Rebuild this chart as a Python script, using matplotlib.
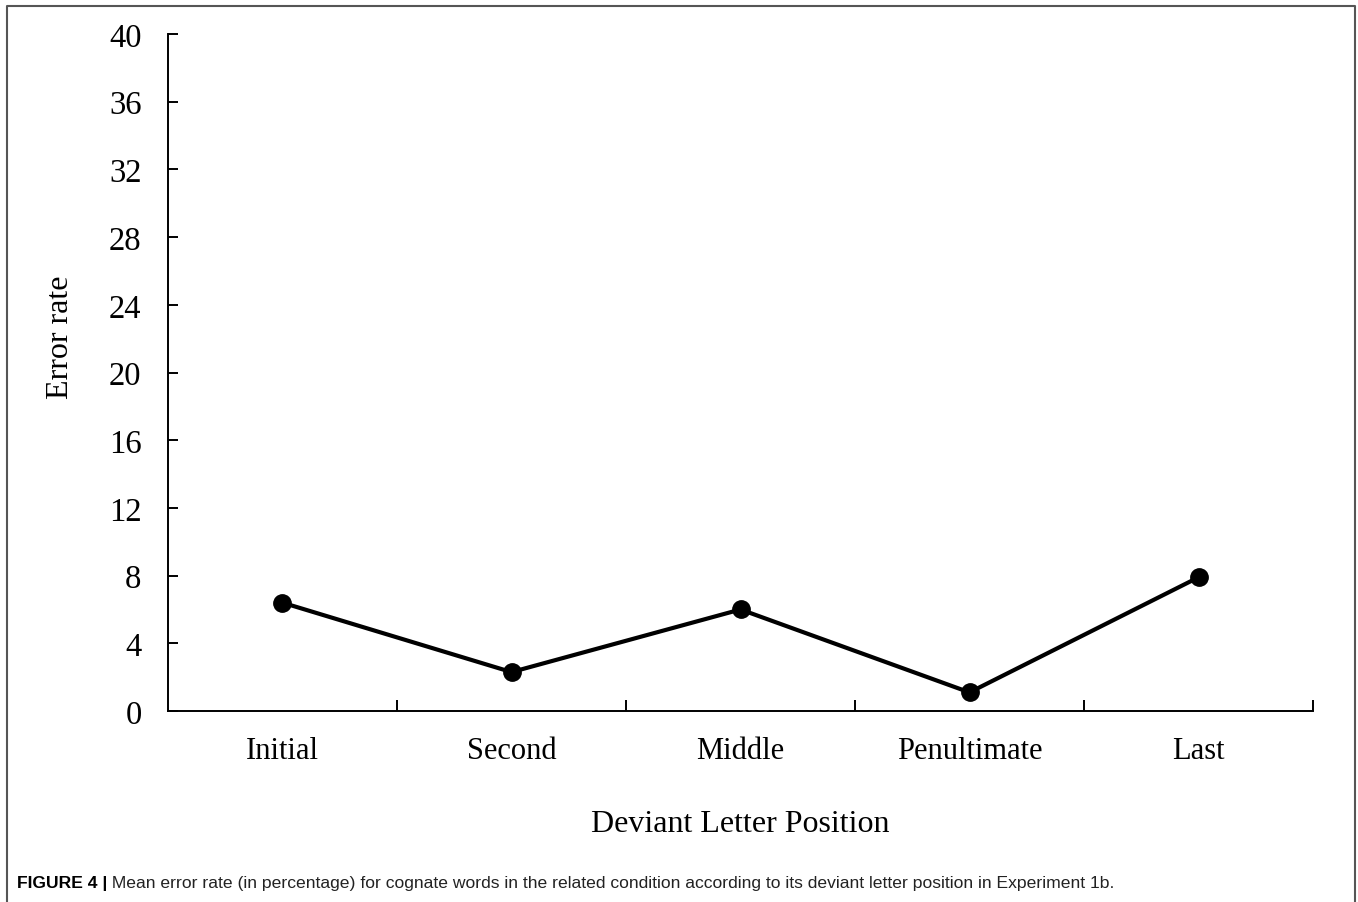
import numpy as np
import matplotlib
matplotlib.use('Agg')
import matplotlib.pyplot as plt
from matplotlib.lines import Line2D

# data
positions = ['Initial', 'Second', 'Middle', 'Penultimate', 'Last']
error_rate = [6.4, 2.3, 6.0, 1.1, 7.9]
y_ticks = [0, 4, 8, 12, 16, 20, 24, 28, 32, 36, 40]

caption_head = 'FIGURE 4 |'
caption_body = ' Mean error rate (in percentage) for cognate words in the related condition according to its deviant letter position in Experiment 1b.'

plt.rcParams['font.family'] = ['Liberation Serif', 'DejaVu Serif']

fig = plt.figure(figsize=(13.58, 9.03), dpi=100)
ax = fig.add_axes([0.1237, 0.2115, 0.8432, 0.7497])

x = np.arange(len(positions))
ax.plot(x, error_rate, color='black', linewidth=3, marker='o', markersize=12.5)

ax.set_xlim(-0.5, len(positions) - 0.5)
ax.set_ylim(0, 40)
ax.set_yticks(y_ticks)
ax.set_xticks(x)
ax.set_xticklabels(positions)
ax.set_xticks(x + 0.5, minor=True)

ax.tick_params(axis='y', direction='in', length=7, width=1.4, labelsize=23.5, pad=19)
ax.tick_params(axis='x', which='major', length=0, labelsize=22, pad=18)
ax.tick_params(axis='x', which='minor', direction='in', length=8, width=1.4)

for side in ['top', 'right']:
    ax.spines[side].set_visible(False)
for side in ['left', 'bottom']:
    ax.spines[side].set_linewidth(1.4)

ax.set_ylabel('Error rate', fontsize=23)
ax.yaxis.set_label_coords(-0.081, 0.554)
ax.set_xlabel('Deviant Letter Position', fontsize=23, labelpad=32)

# frame around the figure (open at the bottom)
frame_color = '#555555'
fig.add_artist(Line2D([0.0052, 0.0052, 0.9978, 0.9978], [0.0, 0.9925, 0.9925, 0.0],
                      transform=fig.transFigure, color=frame_color, linewidth=1.5))

# caption with bold lead
head = fig.text(0.0125, 0.0166, caption_head, fontsize=12.6, fontweight='bold',
                family=['Liberation Sans', 'DejaVu Sans'], va='baseline')
fig.canvas.draw()
bb = head.get_window_extent(renderer=fig.canvas.get_renderer())
x_end = bb.x1 / fig.bbox.width
fig.text(x_end, 0.0166, caption_body, fontsize=12.6, color='#222222',
         family=['Liberation Sans', 'DejaVu Sans'], va='baseline')

fig.savefig('out.png', dpi=100)
